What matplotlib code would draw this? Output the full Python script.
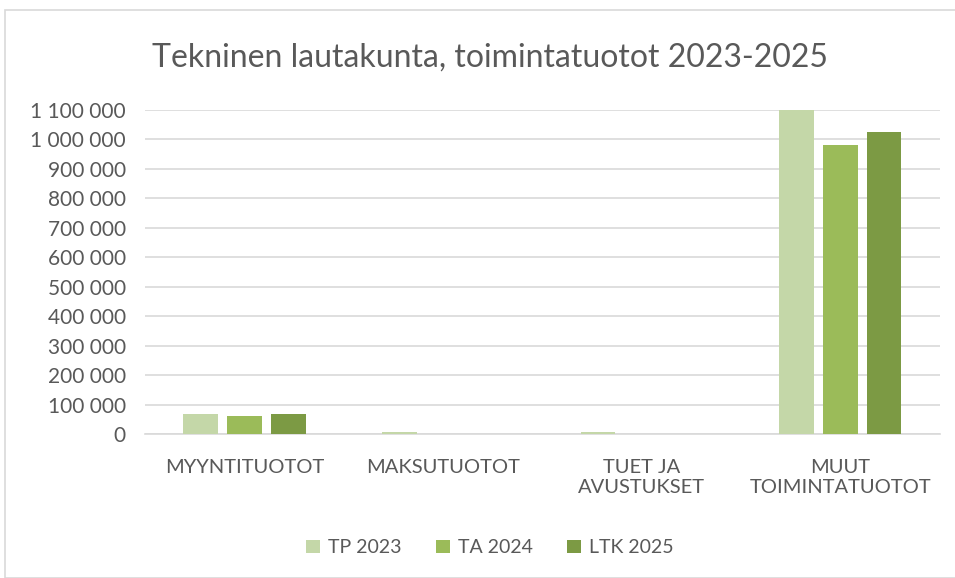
import matplotlib.pyplot as plt
import numpy as np
from matplotlib.patches import Rectangle

plt.rcParams['font.family'] = ['Lato', 'DejaVu Sans']

categories = ["MYYNTITUOTOT", "MAKSUTUOTOT", "TUET JA\nAVUSTUKSET", "MUUT\nTOIMINTATUOTOT"]
series = ["TP 2023", "TA 2024", "LTK 2025"]
tp2023 = [68000, 7000, 7000, 1098000]
ta2024 = [63000, 0, 0, 980000]
ltk2025 = [69000, 0, 0, 1025000]
colors = ["#C4D7A8", "#9BBB59", "#7C9A44"]
yticks = list(range(0, 1100001, 100000))

fig = plt.figure(figsize=(9.55, 5.78), dpi=100)
ax = fig.add_axes([0.152, 0.249, 0.832, 0.561])

x = np.arange(len(categories))
width = 0.175
pitch = 0.22
for i, (name, vals) in enumerate(zip(series, [tp2023, ta2024, ltk2025])):
    ax.bar(x + (i - 1) * pitch, vals, width, color=colors[i], label=name, zorder=3)

ax.set_xlim(-0.5, 3.5)
ax.set_ylim(0, 1100000)
ax.set_yticks(yticks)
ax.set_yticklabels([f"{v:,}".replace(",", " ") for v in yticks])
ax.set_xticks(x)
ax.set_xticklabels(categories)
ax.grid(axis="y", color="#D9D9D9", linewidth=1.2, zorder=0)
for s in ["top", "right", "left"]:
    ax.spines[s].set_visible(False)
ax.spines["bottom"].set_color("#D9D9D9")
ax.spines["bottom"].set_linewidth(1.2)
ax.tick_params(axis="both", length=0, labelcolor="#595959")
ax.tick_params(axis="x", pad=18, labelsize=14.5)
ax.tick_params(axis="y", pad=14, labelsize=15)

fig.text(0.513, 0.9, "Tekninen lautakunta, toimintatuotot 2023-2025",
         ha="center", va="center", fontsize=23, color="#595959")

ax.legend(loc="center", bbox_to_anchor=(0.513, 0.052), bbox_transform=fig.transFigure,
          ncol=3, frameon=False, fontsize=14, labelcolor="#595959",
          handlelength=0.7, handleheight=0.7, handletextpad=0.4, columnspacing=1.8)

fig.patches.append(Rectangle((0.005, 0.0), 1.0, 0.983, transform=fig.transFigure,
                             fill=False, edgecolor="#D9D9D9", linewidth=1.2))

fig.savefig("out.png", dpi=100)
